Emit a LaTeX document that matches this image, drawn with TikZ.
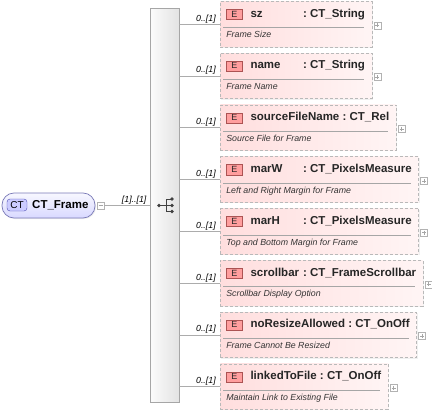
\documentclass[tikz,border=0pt]{standalone}
\usepackage{fontspec}
\setmainfont{Liberation Sans}
\usetikzlibrary{positioning,shadows}

\newdimen\hdrwd
\newcommand\hdrfont{\fontsize{11.5}{13}\selectfont\bfseries}
\newcommand\descfont{\fontsize{8.8}{10}\selectfont\itshape}
\newcommand\etag{{\fboxsep=0.5pt\fboxrule=0.6pt\fcolorbox{red!35!gray}{red!38}{\makebox[14pt]{\rule[-1.6pt]{0pt}{8.6pt}\fontsize{9}{9}\selectfont\color{black!85}E}}}}
\newcommand\elname[1]{\setbox2\hbox{#1}\ifdim\wd2<50pt\hbox to 52.5pt{\box2\hfil}\else\box2\ \fi}
\newcommand\elemtext[3]{%
  \setbox4\hbox{\kern6pt\etag\kern8pt{\hdrfont\color{black!85}\elname{#1}:\ #2}\kern7pt}%
  \hdrwd=\wd4 \ht4=10.7pt \dp4=0pt
  \setbox6\hbox{\kern6pt\descfont\color{black!80}#3}\ht6=7pt \dp6=0pt
  \vbox to 45.5pt{\offinterlineskip
    \kern5pt\box4
    \kern10.3pt\moveright3pt\vbox{\color{gray!70}\hrule width\dimexpr\hdrwd-11pt\relax height0.6pt}
    \kern2.9pt\box6
    \vss}}

\begin{document}
\begin{tikzpicture}[x=1pt, y=-1pt,
  conn/.style={draw=gray!65, line width=0.6pt},
  mult/.style={pos=1, anchor=base east, xshift=-4pt, yshift=3pt, inner sep=0pt, font=\fontsize{8.8}{10}\selectfont\itshape},
  elem/.style={anchor=north west, inner sep=0pt, draw=gray!55, line width=0.7pt, dash pattern=on 3pt off 2pt,
    left color=red!13, right color=red!4, drop shadow={shadow xshift=1pt, shadow yshift=-1pt, opacity=0.12}},
  plusbox/.style={draw=gray!60, fill=white, minimum size=7pt, inner sep=0pt, line width=0.5pt,
    path picture={\draw [gray!70, line width=0.5pt]
      ([xshift=1.5pt]path picture bounding box.west) -- ([xshift=-1.5pt]path picture bounding box.east)
      ([yshift=-1.5pt]path picture bounding box.north) -- ([yshift=1.5pt]path picture bounding box.south);}},
  minusbox/.style={draw=gray!60, fill=white, minimum size=7pt, inner sep=0pt, line width=0.5pt,
    path picture={\draw [gray!70, line width=0.5pt]
      ([xshift=1.5pt]path picture bounding box.west) -- ([xshift=-1.5pt]path picture bounding box.east);}},
  ctbox/.style={rounded corners=12pt, minimum width=93pt, minimum height=25pt, draw=blue!30!gray!80, line width=0.7pt,
    top color=blue!3, bottom color=blue!15, drop shadow={shadow xshift=1pt, shadow yshift=-1pt, opacity=0.15}},
  cttag/.style={rounded corners=3pt, minimum width=20pt, minimum height=12pt, inner sep=0pt, draw=blue!40!gray,
    fill=blue!20, font=\fontsize{10}{10}\selectfont},
  seqbar/.style={minimum width=29pt, minimum height=394pt, inner sep=0pt, draw=gray!70, line width=0.6pt,
    left color=gray!3, right color=gray!22, drop shadow={shadow xshift=1.2pt, shadow yshift=-1.2pt, opacity=0.25}},
  icon/.style={draw=black!75, line width=0.7pt}]
  \useasboundingbox (0,0) rectangle (432,415);
  % Complex type
  \node (frame) [ctbox] at (48.5,205.5) {};
  \node (ct) [cttag] at (17,205) {CT};
  \node (frame-text) [anchor=base west, inner sep=2pt, font=\hdrfont] at (30,208.5) {CT\_Frame};
  \node (minus) [minusbox] at (100.5,205.5) {};
  % Sequence
  \node (seq) [seqbar] at (164.5,205) {};
  \draw [icon] (159,205.5) -- (166,205.5) (166,199) -- (166,211.5)
    (166,199) -- (172,199) (166,205.5) -- (172,205.5) (166,211.5) -- (172,211.5);
  \foreach \p in {(159,205.5),(172,199),(172,205.5),(172,211.5)}
    \fill [black!75] \p circle (1.9pt);
  \draw [conn] (minus.east) -- node [mult, xshift=1pt] {[1]..[1]} (seq.west |- minus.east);
  % Elements
  \node (e-sz) [elem] at (220,1) {\elemtext{sz}{CT\_String}{Frame Size}};
  \node (e-name) [elem] at (220,52.8) {\elemtext{name}{CT\_String}{Frame Name}};
  \node (e-src) [elem] at (220,104.6) {\elemtext{sourceFileName}{CT\_Rel}{Source File for Frame}};
  \node (e-marw) [elem] at (220,156.4) {\elemtext{marW}{CT\_PixelsMeasure}{Left and Right Margin for Frame}};
  \node (e-marh) [elem] at (220,208.2) {\elemtext{marH}{CT\_PixelsMeasure}{Top and Bottom Margin for Frame}};
  \node (e-scroll) [elem] at (220,260) {\elemtext{scrollbar}{CT\_FrameScrollbar}{Scrollbar Display Option}};
  \node (e-noresize) [elem] at (220,311.8) {\elemtext{noResizeAllowed}{CT\_OnOff}{Frame Cannot Be Resized}};
  \node (e-linked) [elem] at (220,363.6) {\elemtext{linkedToFile}{CT\_OnOff}{Maintain Link to Existing File}};
  % Expand boxes
  \node (x-sz) [plusbox, right=1.3pt of e-sz.east, yshift=-1.3pt] {};
  \node (x-name) [plusbox, right=1.3pt of e-name.east, yshift=-1.3pt] {};
  \node (x-src) [plusbox, right=1.3pt of e-src.east, yshift=-1.3pt] {};
  \node (x-marw) [plusbox, right=1.3pt of e-marw.east, yshift=-1.3pt] {};
  \node (x-marh) [plusbox, right=1.3pt of e-marh.east, yshift=-1.3pt] {};
  \node (x-scroll) [plusbox, right=1.3pt of e-scroll.east, yshift=-1.3pt] {};
  \node (x-noresize) [plusbox, right=1.3pt of e-noresize.east, yshift=-1.3pt] {};
  \node (x-linked) [plusbox, right=1.3pt of e-linked.east, yshift=-1.3pt] {};
  % Connectors
  \draw [conn] (seq.east |- e-sz.west) -- node [mult] {0..[1]} (e-sz.west);
  \draw [conn] (seq.east |- e-name.west) -- node [mult] {0..[1]} (e-name.west);
  \draw [conn] (seq.east |- e-src.west) -- node [mult] {0..[1]} (e-src.west);
  \draw [conn] (seq.east |- e-marw.west) -- node [mult] {0..[1]} (e-marw.west);
  \draw [conn] (seq.east |- e-marh.west) -- node [mult] {0..[1]} (e-marh.west);
  \draw [conn] (seq.east |- e-scroll.west) -- node [mult] {0..[1]} (e-scroll.west);
  \draw [conn] (seq.east |- e-noresize.west) -- node [mult] {0..[1]} (e-noresize.west);
  \draw [conn] (seq.east |- e-linked.west) -- node [mult] {0..[1]} (e-linked.west);
\end{tikzpicture}
\end{document}
